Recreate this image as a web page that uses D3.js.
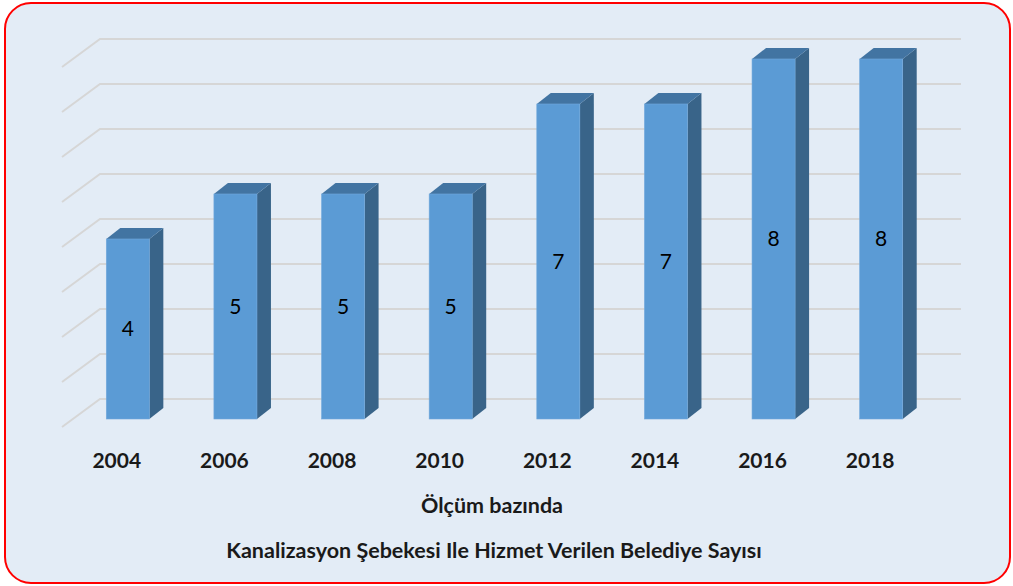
<!DOCTYPE html>
<html>
<head>
<meta charset="utf-8">
<script src="https://cdn.jsdelivr.net/npm/d3@7"></script>
<style>
  body { margin: 0; background: #fff; }
  svg { display: block; font-family: Lato, "Open Sans", sans-serif; }
</style>
</head>
<body>
<div id="chart"></div>
<script>
const years = ['2004', '2006', '2008', '2010', '2012', '2014', '2016', '2018'];
const counts = [4, 5, 5, 5, 7, 7, 8, 8];
const gridTicks = [0, 1, 2, 3, 4, 5, 6, 7, 8];
const axisTitle = 'Ölçüm bazında';
const chartTitle = 'Kanalizasyon Şebekesi Ile Hizmet Verilen Belediye Sayısı';

const width = 1013, height = 586;
// 3d depth offsets
const wallDy = -28;                // floor front -> back wall
const barDx = 14, barDy = -11;     // bar front -> bar back

const svg = d3.select('#chart')
  .append('svg')
  .attr('width', width)
  .attr('height', height);

svg.append('rect')
  .attr('x', 5).attr('y', 3)
  .attr('width', 1005).attr('height', 580)
  .attr('rx', 26)
  .attr('fill', '#e3ecf6')
  .attr('stroke', '#ff0000')
  .attr('stroke-width', 2);

const x = d3.scaleBand()
  .domain(years)
  .range([62, 923])
  .padding(0);

const yFront = d3.scaleLinear().domain([0, 8]).range([419, 59]);
const yBack = d3.scaleLinear().domain([0, 8]).range([399, 39]);

const gridColor = '#d6d6d6';
svg.append('g')
  .selectAll('.grid-line')
  .data(gridTicks)
  .enter()
  .append('polyline')
  .attr('class', 'grid-line')
  .attr('points', d => `62,${yBack(d) - wallDy} 100,${yBack(d)} 961,${yBack(d)}`)
  .attr('fill', 'none')
  .attr('stroke', gridColor)
  .attr('stroke-width', 2);

const barW = x.bandwidth() * 0.4;
const bars = svg.selectAll('.bar')
  .data(years.map((year, i) => ({ year, value: counts[i] })))
  .enter()
  .append('g')
  .attr('class', 'bar');

const left = d => x(d.year) + x.bandwidth() / 2 + 12 - barW / 2;
const right = d => left(d) + barW;

// side face
bars.append('path')
  .attr('d', d => {
    const x1 = right(d), t = yFront(d.value), b = yFront(0);
    return `M${x1},${t} L${x1 + barDx},${t + barDy} L${x1 + barDx},${b + barDy} L${x1},${b} Z`;
  })
  .attr('fill', '#396489');

// top face
bars.append('path')
  .attr('d', d => {
    const x0 = left(d), x1 = right(d), t = yFront(d.value);
    return `M${x0},${t} L${x0 + barDx},${t + barDy} L${x1 + barDx},${t + barDy} L${x1},${t} Z`;
  })
  .attr('fill', '#4274a2');

// front face
bars.append('rect')
  .attr('x', d => left(d))
  .attr('y', d => yFront(d.value))
  .attr('width', barW)
  .attr('height', d => yFront(0) - yFront(d.value))
  .attr('fill', '#5b9bd5')
  .attr('stroke', '#72a9dc')
  .attr('stroke-width', 0.6);

bars.append('text')
  .attr('x', d => left(d) + barW / 2)
  .attr('y', d => (yFront(d.value) + yFront(0)) / 2)
  .attr('dy', '0.35em')
  .attr('text-anchor', 'middle')
  .attr('font-size', 21)
  .attr('fill', '#000')
  .text(d => d.value);

// category labels
svg.selectAll('.cat')
  .data(years)
  .enter()
  .append('text')
  .attr('class', 'cat')
  .attr('x', d => x(d) + x.bandwidth() / 2 + 1)
  .attr('y', 461)
  .attr('dy', '0.35em')
  .attr('text-anchor', 'middle')
  .attr('font-size', 21)
  .attr('font-weight', 'bold')
  .attr('fill', '#1a1a1a')
  .text(d => d);

svg.append('text')
  .attr('x', 492).attr('y', 505)
  .attr('dy', '0.35em')
  .attr('text-anchor', 'middle')
  .attr('font-size', 21.5)
  .attr('font-weight', 'bold')
  .attr('fill', '#1a1a1a')
  .text(axisTitle);

svg.append('text')
  .attr('x', 494).attr('y', 550)
  .attr('dy', '0.35em')
  .attr('text-anchor', 'middle')
  .attr('font-size', 21.5)
  .attr('font-weight', 'bold')
  .attr('fill', '#1a1a1a')
  .text(chartTitle);
</script>
</body>
</html>
